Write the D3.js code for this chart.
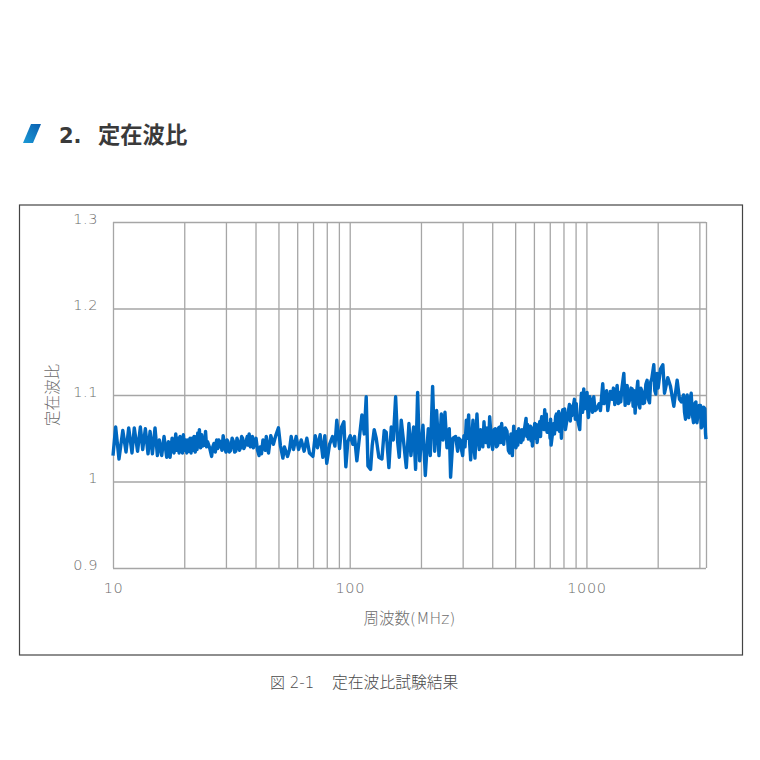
<!DOCTYPE html>
<html lang="ja">
<head>
<meta charset="utf-8">
<title>定在波比</title>
<script src="https://d3js.org/d3.v7.min.js"></script>
<style>
  body { margin: 0; background: #fff; }
  text { font-family: "DejaVu Sans", "Noto Sans CJK JP", sans-serif; }
</style>
</head>
<body>
<div id="my_dataviz"></div>
<script>
// values: frequency (MHz) and standing wave ratio, line for line
var freqMHz = [
  10, 10.26, 10.6, 11, 11.35, 11.65, 12.03, 12.3, 12.7, 13.05,
  13.35, 13.7, 14.06, 14.34, 14.67, 15.05, 15.4, 15.7, 16.06, 16.43,
  16.86, 17.14, 17.42, 17.77, 18.11, 18.41, 18.62, 18.83, 19.02, 19.2,
  19.35, 19.5, 19.66, 19.83, 20.05, 20.3, 20.5, 20.7, 20.93, 21.16,
  21.37, 21.58, 21.8, 22, 22.25, 22.5, 22.65, 22.8, 23, 23.17,
  23.45, 23.7, 23.95, 24.17, 24.4, 24.6, 24.85, 25.1, 25.6, 26.1,
  26.4, 26.7, 27.05, 27.4, 27.7, 28, 28.25, 28.5, 28.85, 29.2,
  29.6, 30, 30.3, 30.6, 31, 31.4, 31.85, 32.3, 32.65, 33, 33.4, 33.8, 34.2, 34.6, 34.95, 35.3, 35.7, 36.1,
  36.9, 37.25, 37.6, 38.05, 38.5, 38.85, 39.2, 39.7, 40.2, 40.8, 41.4, 41.9, 42.4, 43, 43.5, 44, 44.4, 44.9, 45.4,
  46.4, 47.6, 48.7, 50, 51, 52.2, 53, 54.6, 55.7, 56.6,
  57.9, 59.4, 60.8, 62.4, 64.2, 65.9, 67.6, 69.9, 71.5, 73.1,
  75, 77, 78.5, 80, 82.2, 84.6, 86.6, 88.2, 90.6, 92.4,
  94.5, 96.3, 98.2, 100.5, 103.1, 104.8, 107.2, 110, 112.6, 115.2,
  117.4, 119.4, 122.5, 124.5, 126.9, 129.4, 132.8, 136.8, 139.9, 142.6,
  146.4, 149.8, 152.8, 156.3, 159.4, 161.9, 165.1, 168.9, 173.4, 177.9,
  181.4, 186.2, 189.8, 193.6, 197.4, 203.9, 208.6, 214.7, 219, 224,
  228.5, 232.9, 238.3, 243.8, 247.7, 252.6, 257.5, 263.4, 266.8, 273,
  280.2, 285.8, 289, 293.3, 297, 300, 303.9, 307, 310.9, 314, 318, 321, 324.3, 328, 331.7, 335, 338.2,
  344.8, 349, 352.8, 357, 360.9, 365, 369.2, 373, 376.5, 380, 382.6, 386, 390.2, 396, 401.7, 407, 412.3, 417, 421.8,
  426, 430.1, 434, 438.5, 443, 447.2, 454, 461.9, 468, 474, 480, 486.6, 492.9, 498.5, 504.3, 509, 513,
  517.6, 529.5, 534, 539, 543.4, 555.9, 560, 564, 568.7, 579.9,
  584, 588, 591.3, 604.9, 609, 614, 618.8, 634.9, 640, 644,
  647.4, 660.1, 666.6, 671, 677, 682, 697.7, 702, 706, 709.1,
  727.8, 733, 741, 747, 755, 763.7, 770, 777, 783.9, 794.3,
  802, 809, 815.2, 847.6, 855, 861, 867, 889.8, 897, 906,
  913.2, 937.1, 945, 952.5, 963, 974.3, 984, 993.6, 1006, 1013,
  1020, 1033, 1046, 1060, 1074, 1087, 1099, 1131, 1146, 1172,
  1187, 1203, 1217, 1231, 1263, 1284, 1300, 1318, 1348, 1365,
  1383, 1397, 1411, 1439, 1457, 1470, 1486, 1505, 1525, 1542,
  1560, 1575, 1590, 1606, 1625, 1648, 1664, 1681, 1697, 1714,
  1736, 1759, 1782, 1805, 1826, 1847, 1868, 1889, 1926, 1945,
  1964, 1986, 2009, 2055, 2103, 2137, 2207, 2265, 2340, 2417,
  2473, 2520, 2572, 2597, 2622, 2640, 2665, 2687, 2709, 2740,
  2771, 2800, 2835, 2868, 2900, 2930, 2957, 2995, 3034, 3058,
  3083, 3125, 3165, 3185, 3200
];
var swr = [
  1.03, 1.063, 1.026, 1.059, 1.034, 1.062, 1.033, 1.062, 1.035, 1.063,
  1.037, 1.061, 1.032, 1.058, 1.032, 1.062, 1.03, 1.048, 1.03, 1.052,
  1.028, 1.046, 1.028, 1.05, 1.033, 1.055, 1.036, 1.05, 1.033, 1.052,
  1.036, 1.05, 1.033, 1.054, 1.036, 1.048, 1.033, 1.048, 1.035, 1.05,
  1.033, 1.05, 1.036, 1.052, 1.034, 1.052, 1.037, 1.056, 1.04, 1.06,
  1.039, 1.054, 1.041, 1.05, 1.042, 1.058, 1.04, 1.046, 1.039, 1.029,
  1.04, 1.044, 1.034, 1.048, 1.038, 1.048, 1.04, 1.046, 1.036, 1.053,
  1.04, 1.034, 1.048, 1.046, 1.034, 1.036, 1.05, 1.046, 1.034, 1.035, 1.05, 1.046, 1.036, 1.039, 1.052, 1.05, 1.038, 1.041,
  1.052, 1.042, 1.055, 1.04, 1.048, 1.052, 1.039, 1.046, 1.05, 1.036, 1.03, 1.04, 1.032, 1.048, 1.043, 1.036, 1.052, 1.04, 1.033,
  1.053, 1.043, 1.053, 1.062, 1.041, 1.027, 1.04, 1.029, 1.037, 1.052,
  1.037, 1.052, 1.037, 1.048, 1.035, 1.05, 1.033, 1.029, 1.053, 1.039,
  1.054, 1.028, 1.053, 1.021, 1.043, 1.052, 1.041, 1.071, 1.038, 1.063,
  1.069, 1.017, 1.046, 1.053, 1.043, 1.052, 1.024, 1.052, 1.077, 1.055,
  1.098, 1.018, 1.014, 1.042, 1.06, 1.05, 1.028, 1.026, 1.059, 1.057,
  1.016, 1.063, 1.048, 1.098, 1.046, 1.028, 1.071, 1.046, 1.016, 1.067,
  1.03, 1.063, 1.014, 1.103, 1.024, 1.065, 1.007, 1.061, 1.03, 1.11,
  1.035, 1.082, 1.03, 1.078, 1.048, 1.08, 1.039, 1.061, 1.005, 1.05,
  1.052, 1.035, 1.05, 1.048, 1.036, 1.03, 1.053, 1.04, 1.071, 1.05, 1.077, 1.045, 1.025, 1.05, 1.071, 1.04, 1.027,
  1.078, 1.05, 1.037, 1.06, 1.057, 1.04, 1.069, 1.05, 1.045, 1.062, 1.053, 1.04, 1.075, 1.05, 1.037, 1.06, 1.061, 1.04, 1.042,
  1.062, 1.063, 1.045, 1.067, 1.05, 1.043, 1.062, 1.058, 1.036, 1.033, 1.055, 1.03, 1.064, 1.042, 1.039, 1.058, 1.042,
  1.061, 1.045, 1.06, 1.048, 1.055, 1.073, 1.052, 1.066, 1.049, 1.064,
  1.047, 1.062, 1.041, 1.067, 1.05, 1.066, 1.045, 1.069, 1.052, 1.07,
  1.075, 1.06, 1.083, 1.06, 1.078, 1.057, 1.067, 1.05, 1.072, 1.042,
  1.067, 1.055, 1.075, 1.078, 1.06, 1.081, 1.058, 1.078, 1.05, 1.083,
  1.066, 1.084, 1.06, 1.089, 1.07, 1.087, 1.076, 1.095, 1.072, 1.09,
  1.074, 1.06, 1.085, 1.102, 1.08, 1.107, 1.084, 1.091, 1.103, 1.082,
  1.074, 1.098, 1.092, 1.08, 1.098, 1.082, 1.083, 1.09, 1.082, 1.113,
  1.09, 1.093, 1.105, 1.082, 1.104, 1.095, 1.108, 1.089, 1.111, 1.09,
  1.103, 1.092, 1.107, 1.125, 1.088, 1.108, 1.111, 1.09, 1.095, 1.108,
  1.107, 1.087, 1.105, 1.079, 1.1, 1.116, 1.09, 1.085, 1.108, 1.105,
  1.09, 1.091, 1.112, 1.117, 1.095, 1.091, 1.115, 1.119, 1.135, 1.105,
  1.101, 1.125, 1.108, 1.13, 1.135, 1.102, 1.12, 1.11, 1.087, 1.117,
  1.095, 1.092, 1.1, 1.08, 1.072, 1.09, 1.1, 1.075, 1.074, 1.095,
  1.102, 1.078, 1.068, 1.09, 1.092, 1.068, 1.076, 1.088, 1.088, 1.062,
  1.064, 1.086, 1.084, 1.055, 1.049
];
var yTicks = [0.9, 1, 1.1, 1.2, 1.3];
var xLabelled = [10, 100, 1000];
var xGrid = [10, 20, 30, 40, 50, 60, 70, 80, 90, 100, 200, 300, 400, 500, 600, 700, 800, 900, 1000, 2000, 3000, 3200];

var svg = d3.select("#my_dataviz")
  .append("svg")
  .attr("width", 760)
  .attr("height", 760);

// section heading
var grad = svg.append("defs").append("linearGradient")
  .attr("id", "mark").attr("x1", 0).attr("y1", 1).attr("x2", 1).attr("y2", 0);
grad.append("stop").attr("offset", "0%").attr("stop-color", "#1b9ad6");
grad.append("stop").attr("offset", "100%").attr("stop-color", "#0a5fb0");

svg.append("polygon")
  .attr("points", "23,143 31,124 41,124 33,143")
  .attr("fill", "url(#mark)");

svg.append("text")
  .attr("x", 59).attr("y", 143)
  .attr("font-size", 21).attr("font-weight", 700).attr("fill", "#3a3a3a")
  .text("2.");
svg.append("text")
  .attr("x", 98).attr("y", 143)
  .attr("font-size", 22.3).attr("font-weight", 700).attr("fill", "#3a3a3a")
  .text("定在波比");

// outer frame
svg.append("rect")
  .attr("x", 19.5).attr("y", 205)
  .attr("width", 723).attr("height", 450)
  .attr("fill", "#fff")
  .attr("stroke", "#444")
  .attr("stroke-width", 1.2);

var margin = {top: 222, left: 113},
    width = 593,
    height = 346;

var g = svg.append("g")
  .attr("transform", "translate(" + margin.left + "," + margin.top + ")");

var x = d3.scaleLog()
  .domain([10, 3200])
  .range([0, width]);

var y = d3.scaleLinear()
  .domain([0.9, 1.3])
  .range([height, 0]);

// x grid and labels
var xAxis = g.append("g")
  .attr("transform", "translate(0," + height + ")")
  .call(d3.axisBottom(x)
    .tickValues(xGrid)
    .tickSize(-height)
    .tickPadding(15)
    .tickFormat(function (d) { return xLabelled.indexOf(d) >= 0 ? d : ""; }));
xAxis.select(".domain").remove();

// y grid and labels
var yAxis = g.append("g")
  .call(d3.axisLeft(y)
    .tickValues(yTicks)
    .tickSize(-width)
    .tickPadding(15)
    .tickFormat(function (d) { return d === 1 ? "1" : d3.format(".1f")(d); }));
yAxis.select(".domain").remove();
yAxis.selectAll(".tick text").attr("dy", "0.1em");

g.selectAll(".tick line").attr("stroke", "#a6a6a6").attr("stroke-width", 1.3);
g.selectAll(".tick text")
  .attr("fill", "#6c6c6c")
  .attr("font-size", 14.5)
  .style("font-family", "'DejaVu Sans', sans-serif")
  .style("font-weight", 300)
  .style("letter-spacing", "0.6px");

// the trace
var line = d3.line()
  .x(function (d, i) { return x(freqMHz[i]); })
  .y(function (d) { return y(d); });

g.append("path")
  .datum(swr)
  .attr("fill", "none")
  .attr("stroke", "#0068c0")
  .attr("stroke-width", 3.4)
  .attr("stroke-linejoin", "round")
  .attr("d", line);

// axis titles
svg.append("text")
  .attr("transform", "translate(58,395) rotate(-90)")
  .attr("text-anchor", "middle")
  .attr("font-size", 15.5).attr("font-weight", 300).attr("fill", "#6c6c6c")
  .text("定在波比");

svg.append("text")
  .attr("x", 409.5).attr("y", 624)
  .attr("text-anchor", "middle")
  .attr("font-size", 15.5).attr("font-weight", 300).attr("fill", "#6c6c6c")
  .text("周波数(MHz)");

// caption
svg.append("text")
  .attr("x", 270).attr("y", 688)
  .attr("font-size", 15).attr("font-weight", 300).attr("fill", "#4a4a4a")
  .text("図 2-1");
svg.append("text")
  .attr("x", 332).attr("y", 688)
  .attr("font-size", 15.8).attr("font-weight", 300).attr("fill", "#4a4a4a")
  .text("定在波比試験結果");
</script>
</body>
</html>
